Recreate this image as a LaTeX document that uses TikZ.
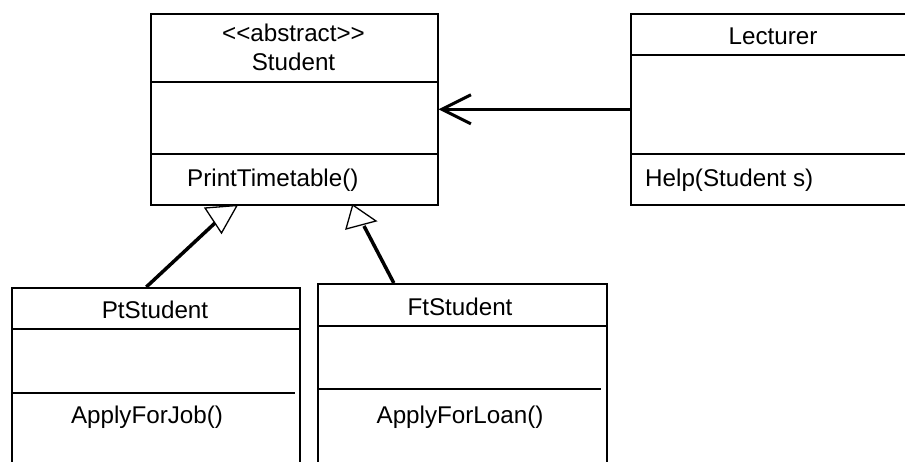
\documentclass[tikz,border=0pt]{standalone}
\usepackage{fontspec}
\setmainfont{Liberation Sans}
\usetikzlibrary{arrows.meta,calc}
\begin{document}
\begin{tikzpicture}[x=1pt,y=-1pt,
  box/.style={draw=black,line width=1.6pt,rectangle,inner sep=0pt,anchor=north west},
  sep/.style={draw=black,line width=1.6pt},
  txt/.style={inner sep=0pt,font=\fontsize{24.2}{29}\selectfont},
  assoc/.style={draw=black,line width=3.5pt,-{Straight Barb[length=29pt,width=29pt,line width=3pt]}},
  genline/.style={draw=black,line width=3.5pt},
  gentri/.style={draw=black,fill=white,line width=1.3pt,line join=miter}]
\useasboundingbox (0,0) rectangle (905,461);
% Student
\node[box,minimum width=287pt,minimum height=191pt] (student) at (150,13) {};
\draw[sep] (150,82) -- (437,82);
\draw[sep] (150,154) -- (437,154);
\node[txt] (stereo) at (293.5,33) {{<}{<}abstract{>}{>}};
\node[txt] (sname) at (293.5,62) {Student};
\node[txt,anchor=west] (sop) at (187,180) {PrintTimetable()};
% Lecturer
\node[box,minimum width=290pt,minimum height=191pt] (lecturer) at (630,13) {};
\draw[sep] (630,55) -- (920,55);
\draw[sep] (630,154) -- (920,154);
\node[txt] (lname) at (773,36) {Lecturer};
\node[txt,anchor=west] (lop) at (645,180) {Help(Student s)};
% PtStudent
\node[box,minimum width=288pt,minimum height=200pt] (pt) at (11,287) {};
\draw[sep] (11,329) -- (299,329);
\draw[sep] (11,393) -- (295,393);
\node[txt] (pname) at (155,310) {PtStudent};
\node[txt] (pop) at (147,417) {ApplyForJob()};
% FtStudent
\node[box,minimum width=289pt,minimum height=200pt] (ft) at (317,283) {};
\draw[sep] (317,326) -- (606,326);
\draw[sep] (317,389) -- (601,389);
\node[txt] (fname) at (460,307) {FtStudent};
\node[txt] (fop) at (460,417) {ApplyForLoan()};
% association
\draw[assoc] (lecturer.west) -- (student.east);
% generalizations
\coordinate (g1) at (215,223);
\coordinate (g2) at (364,226);
\draw[genline] ([xshift=-9.5pt]pt.north) -- (g1);
\draw[genline] ([xshift=-68.5pt]ft.north) -- (g2);
\draw[gentri] (205,208) -- (237,205.5) -- (221.5,233) -- cycle;
\draw[gentri] (352.7,205) -- (376,221) -- (346,229) -- cycle;
\end{tikzpicture}
\end{document}
